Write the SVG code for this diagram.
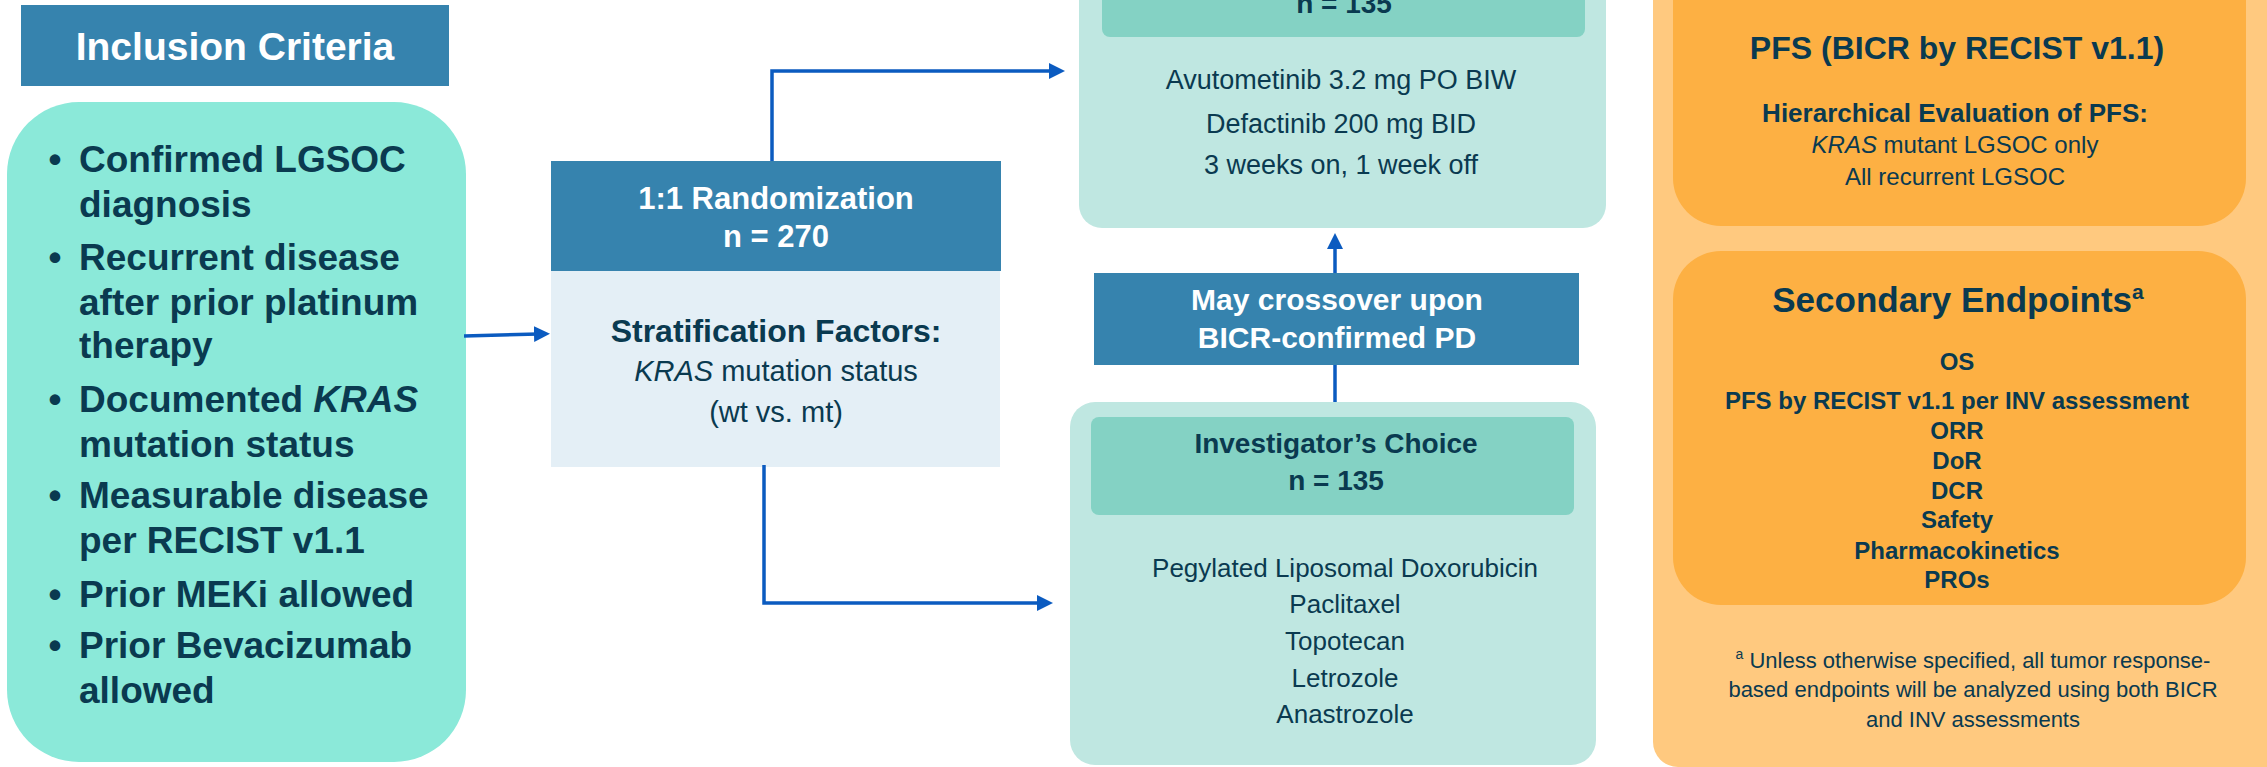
<svg xmlns="http://www.w3.org/2000/svg" width="2267" height="767" viewBox="0 0 2267 767">
  <style>
    text { font-family: "Liberation Sans", Arial, sans-serif; fill: #0A3A50; }
    .b { font-weight: bold; }
    .w { fill: #FFFFFF; }
    .c { text-anchor: middle; }
    .i { font-style: italic; }
    .hdr { fill: #3683AE; }
    .conn { fill: none; stroke: #0B5BC0; stroke-width: 3.5; }
  </style>
  <defs>
    <marker id="arrow" markerUnits="userSpaceOnUse" markerWidth="18" markerHeight="18" refX="4" refY="8" orient="auto">
      <path d="M0,0 L16,8 L0,16 z" fill="#0B5BC0"/>
    </marker>
  </defs>

  <rect width="2267" height="767" fill="#FFFFFF"/>

  <!-- Inclusion criteria -->
  <g id="inclusion-header">
    <rect class="hdr" x="21" y="5" width="428" height="81"/>
    <text class="b w c" x="235" y="60" font-size="39">Inclusion Criteria</text>
  </g>
  <g id="inclusion-list">
    <rect x="7" y="102" width="459" height="660" rx="72" fill="#8BE9D9"/>
    <g class="b" font-size="37">
      <text class="c" x="55" y="172">•</text>
      <text x="79" y="172">Confirmed LGSOC</text>
      <text x="79" y="217">diagnosis</text>
      <text class="c" x="55" y="270">•</text>
      <text x="79" y="270">Recurrent disease</text>
      <text x="79" y="315">after prior platinum</text>
      <text x="79" y="358">therapy</text>
      <text class="c" x="55" y="412">•</text>
      <text x="79" y="412">Documented <tspan class="i">KRAS</tspan></text>
      <text x="79" y="457">mutation status</text>
      <text class="c" x="55" y="508">•</text>
      <text x="79" y="508">Measurable disease</text>
      <text x="79" y="553">per RECIST v1.1</text>
      <text class="c" x="55" y="607">•</text>
      <text x="79" y="607">Prior MEKi allowed</text>
      <text class="c" x="55" y="658">•</text>
      <text x="79" y="658">Prior Bevacizumab</text>
      <text x="79" y="703">allowed</text>
    </g>
  </g>

  <!-- Randomization -->
  <g id="randomization">
    <rect class="hdr" x="551" y="161" width="450" height="110"/>
    <rect x="551" y="271" width="449" height="196" fill="#E4EFF6"/>
    <text class="b w c" x="776" y="209" font-size="31">1:1 Randomization</text>
    <text class="b w c" x="776" y="247" font-size="31">n = 270</text>
    <text class="b c" x="776" y="342" font-size="32">Stratification Factors:</text>
    <text class="c" x="776" y="381" font-size="29"><tspan class="i">KRAS</tspan> mutation status</text>
    <text class="c" x="776" y="422" font-size="29">(wt vs. mt)</text>
  </g>

  <!-- Experimental arm -->
  <g id="experimental-arm">
    <rect x="1079" y="-60" width="527" height="288" rx="23" fill="#BFE7E1"/>
    <rect x="1102" y="-60" width="483" height="97" rx="8" fill="#84D2C4"/>
    <text class="b c" x="1344" y="13" font-size="28">n = 135</text>
    <text class="c" x="1341" y="89" font-size="27">Avutometinib 3.2 mg PO BIW</text>
    <text class="c" x="1341" y="133" font-size="27">Defactinib 200 mg BID</text>
    <text class="c" x="1341" y="174" font-size="27">3 weeks on, 1 week off</text>
  </g>

  <!-- Crossover -->
  <g id="crossover">
    <rect class="hdr" x="1094" y="273" width="485" height="92"/>
    <text class="b w c" x="1337" y="310" font-size="30">May crossover upon</text>
    <text class="b w c" x="1337" y="348" font-size="30">BICR-confirmed PD</text>
  </g>

  <!-- Investigator's choice arm -->
  <g id="control-arm">
    <rect x="1070" y="402" width="526" height="363" rx="25" fill="#BFE7E1"/>
    <rect x="1091" y="417" width="483" height="98" rx="8" fill="#84D2C4"/>
    <text class="b c" x="1336" y="453" font-size="28">Investigator’s Choice</text>
    <text class="b c" x="1336" y="490" font-size="28">n = 135</text>
    <g font-size="26">
      <text class="c" x="1345" y="577">Pegylated Liposomal Doxorubicin</text>
      <text class="c" x="1345" y="613">Paclitaxel</text>
      <text class="c" x="1345" y="650">Topotecan</text>
      <text class="c" x="1345" y="687">Letrozole</text>
      <text class="c" x="1345" y="723">Anastrozole</text>
    </g>
  </g>

  <!-- Endpoints panel -->
  <g id="endpoints">
    <rect x="1653" y="-40" width="660" height="807" rx="25" fill="#FFC97F"/>
  </g>
  <g id="primary-endpoint">
    <rect x="1673" y="-60" width="573" height="286" rx="48" fill="#FDB043"/>
    <text class="b c" x="1957" y="59" font-size="32">PFS (BICR by RECIST v1.1)</text>
    <text class="b c" x="1955" y="122" font-size="26">Hierarchical Evaluation of PFS:</text>
    <text class="c" x="1955" y="153" font-size="24"><tspan class="i">KRAS</tspan> mutant LGSOC only</text>
    <text class="c" x="1955" y="185" font-size="24">All recurrent LGSOC</text>
  </g>
  <g id="secondary-endpoints">
    <rect x="1673" y="251" width="573" height="354" rx="48" fill="#FDB043"/>
    <text class="b c" x="1958" y="312" font-size="35">Secondary Endpoints<tspan font-size="21" dy="-13">a</tspan></text>
    <g class="b" font-size="24">
      <text class="c" x="1957" y="370">OS</text>
      <text class="c" x="1957" y="409">PFS by RECIST v1.1 per INV assessment</text>
      <text class="c" x="1957" y="439">ORR</text>
      <text class="c" x="1957" y="469">DoR</text>
      <text class="c" x="1957" y="499">DCR</text>
      <text class="c" x="1957" y="528">Safety</text>
      <text class="c" x="1957" y="559">Pharmacokinetics</text>
      <text class="c" x="1957" y="588">PROs</text>
    </g>
  </g>
  <g id="footnote" font-size="22">
    <text class="c" x="1973" y="668"><tspan font-size="14" dy="-9">a</tspan><tspan dy="9"> Unless otherwise specified, all tumor response-</tspan></text>
    <text class="c" x="1973" y="697">based endpoints will be analyzed using both BICR</text>
    <text class="c" x="1973" y="727">and INV assessments</text>
  </g>

  <!-- Connectors -->
  <g id="connectors">
    <path class="conn" d="M464,336 L538,334" marker-end="url(#arrow)"/>
    <path class="conn" d="M772,161 L772,71 L1053,71" marker-end="url(#arrow)"/>
    <path class="conn" d="M764,465 L764,603 L1041,603" marker-end="url(#arrow)"/>
    <path class="conn" d="M1335,273 L1335,245" marker-end="url(#arrow)"/>
    <path class="conn" d="M1335,402 L1335,365"/>
  </g>
</svg>
